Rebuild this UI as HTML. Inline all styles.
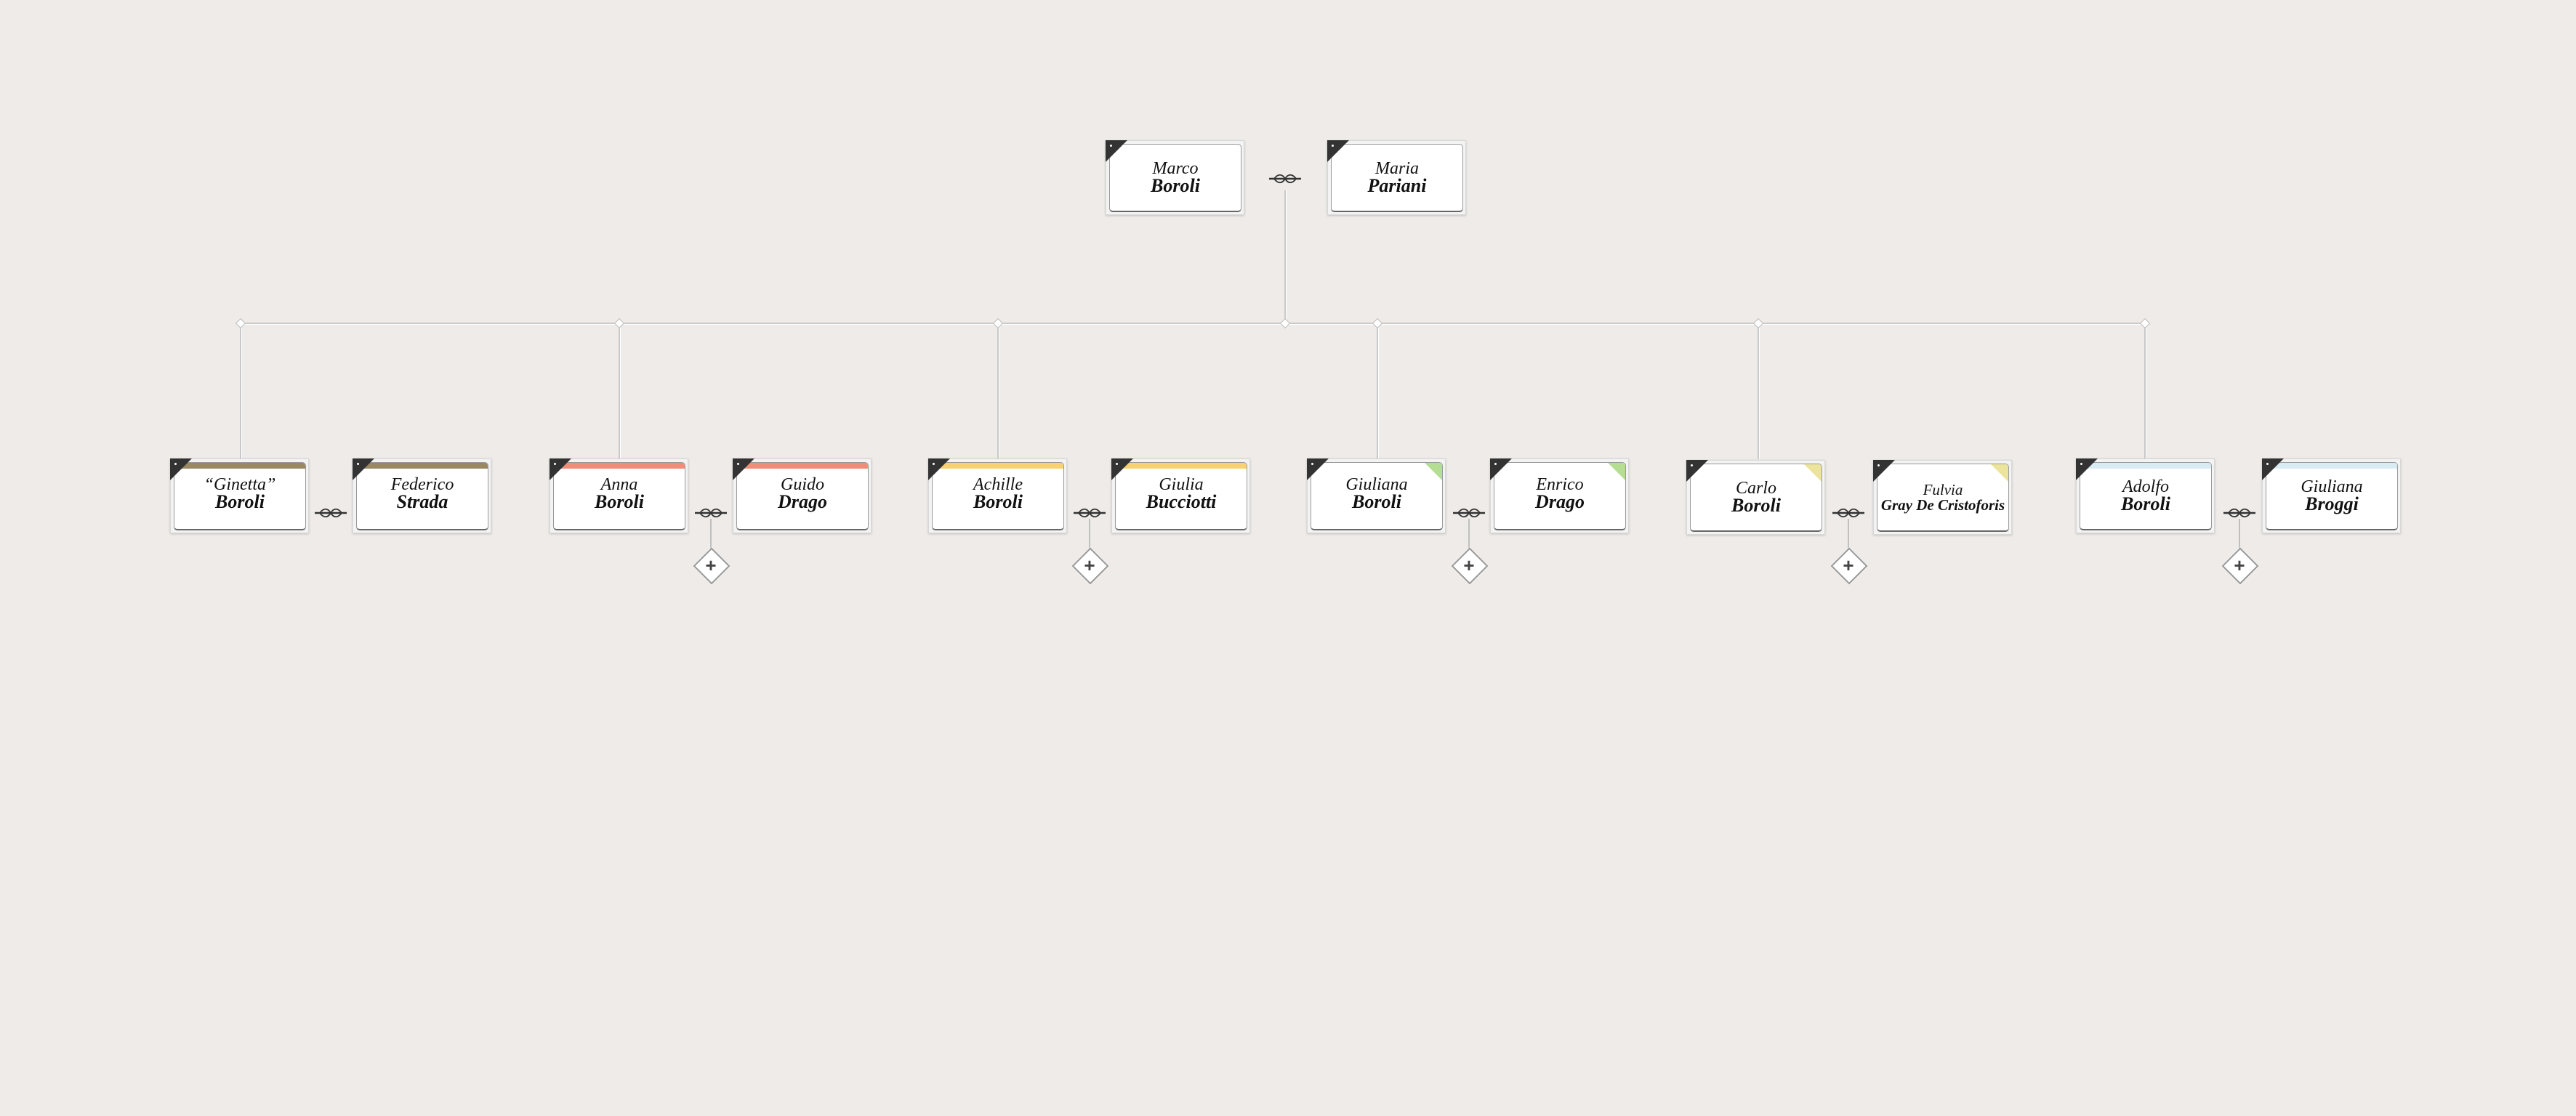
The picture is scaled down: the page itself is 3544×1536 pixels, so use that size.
<!DOCTYPE html>
<html><head><meta charset="utf-8"><style>
html,body{margin:0;padding:0}
body{width:3544px;height:1536px;background:#eeebe8;position:relative;overflow:hidden;font-family:"Liberation Serif",serif}
.b{position:absolute;width:191px;height:103px;background:#f3f3f3;border:1px solid #d8d8d8;box-shadow:0 1px 3px rgba(0,0,0,.18);box-sizing:border-box}
.in{position:absolute;left:4px;top:4px;right:3px;bottom:3px;background:#fff;border:1px solid #999;border-bottom:2px solid #666;border-radius:5px;overflow:hidden}
.band{position:absolute;left:0;right:0;top:0;height:8px}
.tl{position:absolute;left:-1px;top:-1px;width:0;height:0;border-top:30px solid #333;border-right:30px solid transparent}
.tl:after{content:"";position:absolute;left:6px;top:-24px;width:3px;height:3px;background:#fff;border-radius:2px}
.tr{position:absolute;right:-1px;top:-1px;width:0;height:0;border-top:26px solid;border-left:26px solid transparent}
.t{position:absolute;left:0;right:0;text-align:center;font-style:italic;color:#111;white-space:nowrap}
.f{top:17px;font-size:24px}
.s{top:39px;font-size:26px;font-weight:bold}
.h{position:absolute;background:#c9c9c9;border-bottom:1px solid #fff}
.v{position:absolute;width:2px;background:#c9c9c9;border-right:1px solid #fff}
.d{position:absolute;width:8px;height:8px;background:#fff;border:1px solid #bbb;transform:rotate(45deg)}
.p{position:absolute;width:32px;height:32px;background:#fff;border:2px solid #999;transform:rotate(45deg);box-shadow:0 0 2px #fff}
.pl{position:absolute;width:34px;text-align:center;font:bold 26px "Liberation Sans",sans-serif;color:#444;line-height:34px}
</style></head><body>

<div class="v" style="left:1767px;top:262px;height:183px"></div>
<div class="h" style="left:331px;top:444px;width:2621px;height:2px"></div>
<div class="v" style="left:330px;top:445px;height:187px"></div>
<div class="v" style="left:851px;top:445px;height:187px"></div>
<div class="v" style="left:1372px;top:445px;height:187px"></div>
<div class="v" style="left:1894px;top:445px;height:187px"></div>
<div class="v" style="left:2418px;top:445px;height:187px"></div>
<div class="v" style="left:2950px;top:445px;height:187px"></div>
<div class="d" style="left:326px;top:440px"></div>
<div class="d" style="left:847px;top:440px"></div>
<div class="d" style="left:1368px;top:440px"></div>
<div class="d" style="left:1763px;top:440px"></div>
<div class="d" style="left:1890px;top:440px"></div>
<div class="d" style="left:2414px;top:440px"></div>
<div class="d" style="left:2946px;top:440px"></div>

<svg width="3544" height="1536" style="position:absolute;left:0;top:0" fill="none">
<defs><g id="k"><line x1="-22" y1="0" x2="22" y2="0" stroke="#333" stroke-width="2.5"/><path d="M-15 0 C-10 -7 -4 -7 0 0 C4 7 10 7 15 0 C10 -7 4 -7 0 0 C-4 7 -10 7 -15 0Z" stroke="#333" stroke-width="1.8"/></g></defs>
<use href="#k" x="1768" y="246"/>
<use href="#k" x="455" y="706"/>
<use href="#k" x="978" y="706"/>
<use href="#k" x="1499" y="706"/>
<use href="#k" x="2021" y="706"/>
<use href="#k" x="2543" y="706"/>
<use href="#k" x="3081" y="706"/>
<g stroke="#c0c0c0" stroke-width="2">
<line x1="978" y1="714" x2="978" y2="756"/><line x1="1499" y1="714" x2="1499" y2="756"/><line x1="2021" y1="714" x2="2021" y2="756"/><line x1="2543" y1="714" x2="2543" y2="756"/><line x1="3081" y1="714" x2="3081" y2="756"/>
</g>
</svg>

<div class="p" style="left:961px;top:761px"></div><div class="pl" style="left:961px;top:761px">+</div>
<div class="p" style="left:1482px;top:761px"></div><div class="pl" style="left:1482px;top:761px">+</div>
<div class="p" style="left:2004px;top:761px"></div><div class="pl" style="left:2004px;top:761px">+</div>
<div class="p" style="left:2526px;top:761px"></div><div class="pl" style="left:2526px;top:761px">+</div>
<div class="p" style="left:3064px;top:761px"></div><div class="pl" style="left:3064px;top:761px">+</div>

<div class="b" style="left:1521px;top:193px"><div class="in"><div class="t f" style="top:20px">Marco</div><div class="t s" style="top:42px">Boroli</div></div><div class="tl"></div></div>
<div class="b" style="left:1826px;top:193px"><div class="in"><div class="t f" style="top:20px">Maria</div><div class="t s" style="top:42px">Pariani</div></div><div class="tl"></div></div>

<div class="b" style="left:234px;top:631px"><div class="in"><div class="band" style="background:#9a8862"></div><div class="t f">“Ginetta”</div><div class="t s">Boroli</div></div><div class="tl"></div></div>
<div class="b" style="left:485px;top:631px"><div class="in"><div class="band" style="background:#9a8862"></div><div class="t f">Federico</div><div class="t s">Strada</div></div><div class="tl"></div></div>

<div class="b" style="left:756px;top:631px"><div class="in"><div class="band" style="background:#f28c78"></div><div class="t f">Anna</div><div class="t s">Boroli</div></div><div class="tl"></div></div>
<div class="b" style="left:1008px;top:631px"><div class="in"><div class="band" style="background:#f28c78"></div><div class="t f">Guido</div><div class="t s">Drago</div></div><div class="tl"></div></div>

<div class="b" style="left:1277px;top:631px"><div class="in"><div class="band" style="background:#f8d26c"></div><div class="t f">Achille</div><div class="t s">Boroli</div></div><div class="tl"></div></div>
<div class="b" style="left:1529px;top:631px"><div class="in"><div class="band" style="background:#f8d26c"></div><div class="t f">Giulia</div><div class="t s">Bucciotti</div></div><div class="tl"></div></div>

<div class="b" style="left:1798px;top:631px"><div class="in"><div class="t f">Giuliana</div><div class="t s">Boroli</div><div class="tr" style="border-top-color:#b6de92"></div></div><div class="tl"></div></div>
<div class="b" style="left:2050px;top:631px"><div class="in"><div class="t f">Enrico</div><div class="t s">Drago</div><div class="tr" style="border-top-color:#b6de92"></div></div><div class="tl"></div></div>

<div class="b" style="left:2320px;top:633px"><div class="in"><div class="t f" style="top:20px">Carlo</div><div class="t s" style="top:42px">Boroli</div><div class="tr" style="border-top-color:#ece49c"></div></div><div class="tl"></div></div>
<div class="b" style="left:2577px;top:633px"><div class="in"><div class="t f" style="top:23px;font-size:21px">Fulvia</div><div class="t s" style="top:44px;font-size:21px">Gray De Cristoforis</div><div class="tr" style="border-top-color:#ece49c"></div></div><div class="tl"></div></div>

<div class="b" style="left:2856px;top:631px"><div class="in"><div class="band" style="background:#d9ecf3"></div><div class="t f" style="top:20px">Adolfo</div><div class="t s" style="top:42px">Boroli</div></div><div class="tl"></div></div>
<div class="b" style="left:3112px;top:631px"><div class="in"><div class="band" style="background:#d9ecf3"></div><div class="t f" style="top:20px">Giuliana</div><div class="t s" style="top:42px">Broggi</div></div><div class="tl"></div></div>

</body></html>
